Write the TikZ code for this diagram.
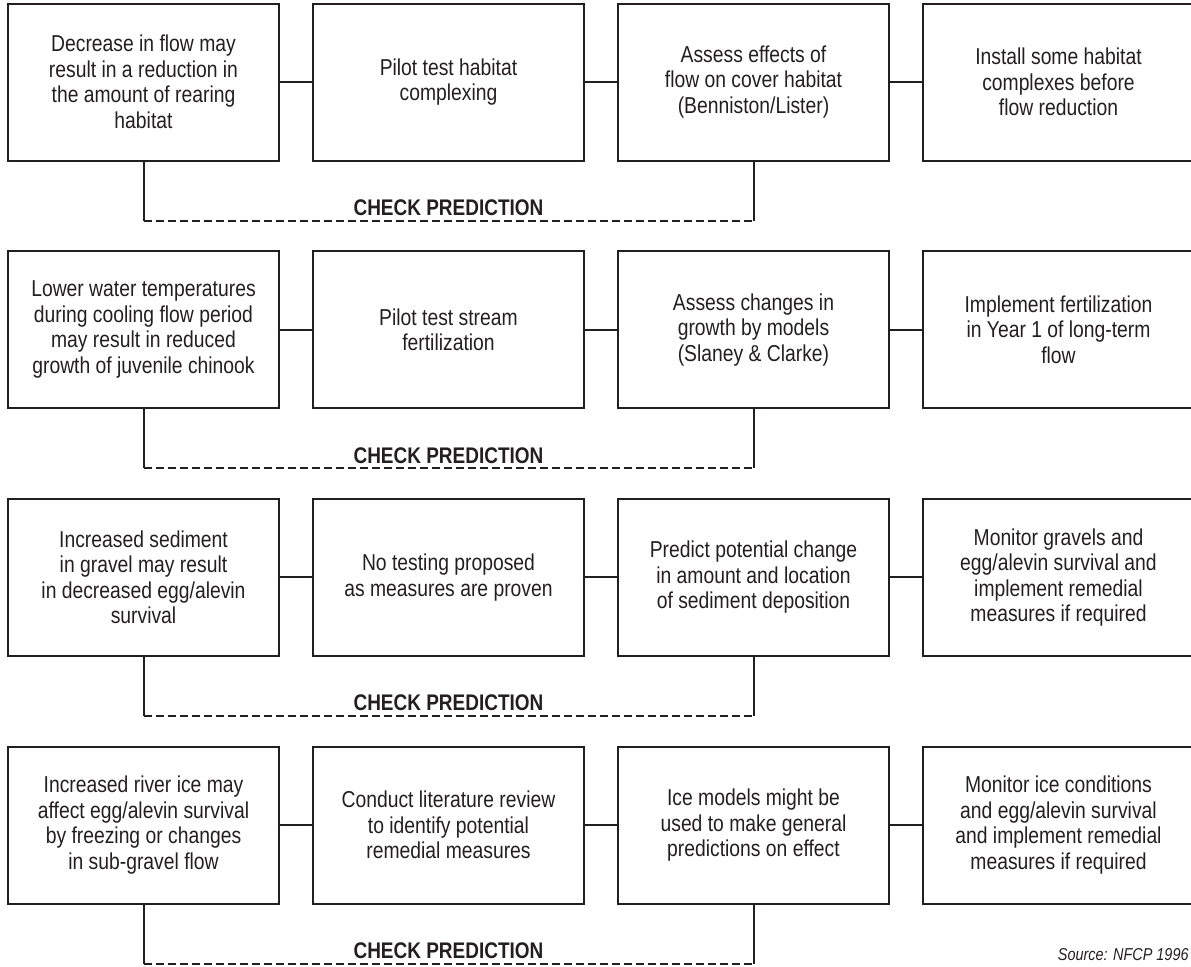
\documentclass[tikz,border=0pt]{standalone}
\usepackage{fontspec}
\setmainfont[FakeStretch=0.84]{Liberation Sans}
\usepackage{xcolor}
\definecolor{cLine}{HTML}{231F20}
\definecolor{cText}{HTML}{231F20}
\usetikzlibrary{positioning,calc}
\tikzset{
  task-box/.style={draw=cLine,line width=1pt,minimum width=135.5pt,
    minimum height=78.5pt,align=center,inner sep=2pt,outer sep=0pt,
    text=cText,font=\fontsize{11.5}{12.75}\selectfont},
  link/.style={draw=cLine,line width=1pt},
  link-check/.style={link,dash pattern=on 4pt off 2pt},
  check-label/.style={font=\bfseries\fontsize{11.3}{12.75}\selectfont,
    text=cText,inner sep=0pt,anchor=base},
  src-note/.style={font=\itshape\fontsize{8.6}{10}\selectfont,
    text=cText,inner sep=0pt,anchor=base east},
}

\begin{document}
\begin{tikzpicture}[x=0.5pt,y=-0.5pt,node distance=45.35pt and 17pt]
  \useasboundingbox (0,0) rectangle (1191,966);
  \clip (0,0) rectangle (1191,966);

  % row 1: rearing habitat
  \node[task-box] (r1a) at (143.5,82) {Decrease in flow may\\result in a reduction in\\the amount of rearing\\habitat};
  \node[task-box,right=of r1a] (r1b) {Pilot test habitat\\complexing};
  \node[task-box,right=of r1b] (r1c) {Assess effects of\\flow on cover habitat\\(Benniston/Lister)};
  \node[task-box,right=of r1c] (r1d) {Install some habitat\\complexes before\\flow reduction};

  % row 2: growth
  \node[task-box,below=of r1a] (r2a) {Lower water temperatures\\during cooling flow period\\may result in reduced\\growth of juvenile chinook};
  \node[task-box,right=of r2a] (r2b) {Pilot test stream\\fertilization};
  \node[task-box,right=of r2b] (r2c) {Assess changes in\\growth by models\\(Slaney \& Clarke)};
  \node[task-box,right=of r2c] (r2d) {Implement fertilization\\in Year 1 of long-term\\flow};

  % row 3: sediment
  \node[task-box,below=of r2a] (r3a) {Increased sediment\\in gravel may result\\in decreased egg/alevin\\survival};
  \node[task-box,right=of r3a] (r3b) {No testing proposed\\as measures are proven};
  \node[task-box,right=of r3b] (r3c) {Predict potential change\\in amount and location\\of sediment deposition};
  \node[task-box,right=of r3c] (r3d) {Monitor gravels and\\egg/alevin survival and\\implement remedial\\measures if required};

  % row 4: river ice
  \node[task-box,below=of r3a] (r4a) {Increased river ice may\\affect egg/alevin survival\\by freezing or changes\\in sub-gravel flow};
  \node[task-box,right=of r4a] (r4b) {Conduct literature review\\to identify potential\\remedial measures};
  \node[task-box,right=of r4b] (r4c) {Ice models might be\\used to make general\\predictions on effect};
  \node[task-box,right=of r4c] (r4d) {Monitor ice conditions\\and egg/alevin survival\\and implement remedial\\measures if required};

  \draw[link] (r1a) -- (r1b);
  \draw[link] (r1b) -- (r1c);
  \draw[link] (r1c) -- (r1d);
  \draw[link] (r2a) -- (r2b);
  \draw[link] (r2b) -- (r2c);
  \draw[link] (r2c) -- (r2d);
  \draw[link] (r3a) -- (r3b);
  \draw[link] (r3b) -- (r3c);
  \draw[link] (r3c) -- (r3d);
  \draw[link] (r4a) -- (r4b);
  \draw[link] (r4b) -- (r4c);
  \draw[link] (r4c) -- (r4d);

  % check prediction loops
  \coordinate (r1l) at ($(r1a.south)+(0,60)$);
  \coordinate (r1r) at (r1c.south |- r1l);
  \draw[link] (r1a.south) -- (r1l);
  \draw[link-check] (r1l) -- (r1r);
  \draw[link] (r1r) -- (r1c.south);
  \node[check-label] (r1chk) at ($(r1b.south |- r1l)+(0,-5)$) {CHECK PREDICTION};

  \coordinate (r2l) at ($(r2a.south)+(0,60)$);
  \coordinate (r2r) at (r2c.south |- r2l);
  \draw[link] (r2a.south) -- (r2l);
  \draw[link-check] (r2l) -- (r2r);
  \draw[link] (r2r) -- (r2c.south);
  \node[check-label] (r2chk) at ($(r2b.south |- r2l)+(0,-5)$) {CHECK PREDICTION};

  \coordinate (r3l) at ($(r3a.south)+(0,60)$);
  \coordinate (r3r) at (r3c.south |- r3l);
  \draw[link] (r3a.south) -- (r3l);
  \draw[link-check] (r3l) -- (r3r);
  \draw[link] (r3r) -- (r3c.south);
  \node[check-label] (r3chk) at ($(r3b.south |- r3l)+(0,-5)$) {CHECK PREDICTION};

  \coordinate (r4l) at ($(r4a.south)+(0,60)$);
  \coordinate (r4r) at (r4c.south |- r4l);
  \draw[link] (r4a.south) -- (r4l);
  \draw[link-check] (r4l) -- (r4r);
  \draw[link] (r4r) -- (r4c.south);
  \node[check-label] (r4chk) at ($(r4b.south |- r4l)+(0,-5)$) {CHECK PREDICTION};

  \node[src-note] (src) at (1189,960) {Source: NFCP 1996};
\end{tikzpicture}
\end{document}
